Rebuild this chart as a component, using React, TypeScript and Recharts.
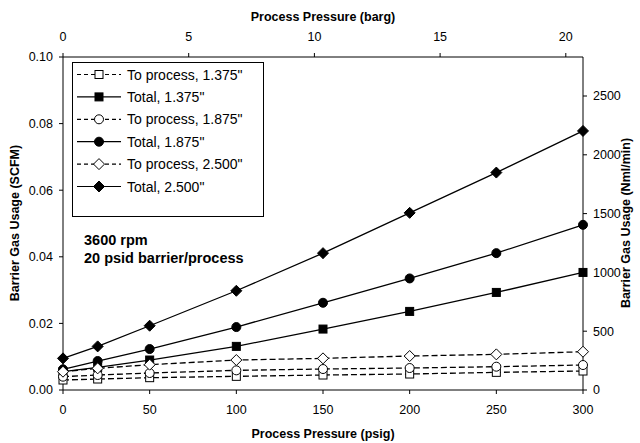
import React from 'react';
import { LineChart, Line, XAxis, YAxis, Legend, Label } from 'recharts';

const psig = [0, 20, 50, 100, 150, 200, 250, 300];
const procA = [0.003, 0.0033, 0.0037, 0.0041, 0.0045, 0.0048, 0.0053, 0.0057];
const totalA = [0.0055, 0.0068, 0.009, 0.0131, 0.0183, 0.0236, 0.0293, 0.0353];
const procB = [0.004, 0.0045, 0.0051, 0.0059, 0.0063, 0.0066, 0.007, 0.0075];
const totalB = [0.0062, 0.0087, 0.0123, 0.0189, 0.0262, 0.0335, 0.0411, 0.0496];
const procC = [0.0055, 0.0065, 0.0076, 0.009, 0.0095, 0.0102, 0.0107, 0.0115];
const totalC = [0.0095, 0.0131, 0.0193, 0.0298, 0.0411, 0.0532, 0.0653, 0.0778];

const psigTicks = [0, 50, 100, 150, 200, 250, 300];
const bargTicks = [0, 5, 10, 15, 20];
const scfmTicks = [0, 0.02, 0.04, 0.06, 0.08, 0.1];
const nmlTicks = [0, 500, 1000, 1500, 2000, 2500];

const PSI_PER_BAR = 14.5038;
const SCFM_TO_NML = 28317;

const series = [
  { key: 'procA', name: 'To process, 1.375"', shape: 'square', filled: false, dashed: true },
  { key: 'totalA', name: 'Total, 1.375"', shape: 'square', filled: true, dashed: false },
  { key: 'procB', name: 'To process, 1.875"', shape: 'circle', filled: false, dashed: true },
  { key: 'totalB', name: 'Total, 1.875"', shape: 'circle', filled: true, dashed: false },
  { key: 'procC', name: 'To process, 2.500"', shape: 'diamond', filled: false, dashed: true },
  { key: 'totalC', name: 'Total, 2.500"', shape: 'diamond', filled: true, dashed: false },
];

const data = psig.map((p, i) => ({
  psig: p,
  barg: p / PSI_PER_BAR,
  procA: procA[i],
  totalA: totalA[i],
  procB: procB[i],
  totalB: totalB[i],
  procC: procC[i],
  totalC: totalC[i],
  totalCNml: totalC[i] * SCFM_TO_NML,
}));

const FONT = '"Liberation Sans", Arial, sans-serif';
const tickStyle = { fill: '#000', fontSize: 12.5, fontFamily: FONT };

function Marker({ cx, cy, shape, filled }: { cx: number; cy: number; shape: string; filled: boolean }) {
  const fill = filled ? '#000' : '#fff';
  if (shape === 'square') {
    return <rect x={cx - 4} y={cy - 4} width={8} height={8} fill={fill} stroke="#000" strokeWidth={1} />;
  }
  if (shape === 'circle') {
    return <circle cx={cx} cy={cy} r={4.5} fill={fill} stroke="#000" strokeWidth={1} />;
  }
  const d = 5.5;
  return (
    <polygon
      points={`${cx},${cy - d} ${cx + d},${cy} ${cx},${cy + d} ${cx - d},${cy}`}
      fill={fill}
      stroke="#000"
      strokeWidth={1}
    />
  );
}

function LegendBox() {
  return (
    <svg width={192} height={155} style={{ display: 'block' }}>
      <rect x={0.5} y={0.5} width={191} height={154} fill="#fff" stroke="#000" strokeWidth={1} />
      {series.map((s, i) => {
        const y = 12.5 + i * 22.4;
        return (
          <g key={s.key}>
            <line x1={5} y1={y} x2={49} y2={y} stroke="#000" strokeWidth={1.2} strokeDasharray={s.dashed ? '4 3' : undefined} />
            <Marker cx={27} cy={y} shape={s.shape} filled={s.filled} />
            <text x={55} y={y + 5} fontSize={14} fontFamily={FONT} fill="#000">
              {s.name}
            </text>
          </g>
        );
      })}
    </svg>
  );
}

const titleStyle = { fontSize: 12.5, fontWeight: 'bold' as const, fontFamily: FONT, fill: '#000' };

export default function App() {
  return (
    <div style={{ position: 'absolute', left: 0, top: 0, width: 640, height: 443, background: '#fff' }}>
      <LineChart width={640} height={443} data={data} margin={{ top: 0, right: 0, bottom: 0, left: 0 }}>
        <XAxis
          xAxisId="bottom"
          dataKey="psig"
          type="number"
          domain={[0, 300]}
          ticks={psigTicks}
          height={53}
          stroke="#000"
          tick={tickStyle}
          tickSize={4}
          tickMargin={11}
          label={
            <Label
              content={() => (
                <text x={323} y={438} textAnchor="middle" {...titleStyle}>
                  Process Pressure (psig)
                </text>
              )}
            />
          }
        />
        <XAxis
          xAxisId="top"
          orientation="top"
          dataKey="barg"
          type="number"
          domain={[0, 300 / PSI_PER_BAR]}
          allowDataOverflow
          ticks={bargTicks}
          height={57}
          stroke="#000"
          tick={tickStyle}
          tickSize={4}
          tickMargin={12}
          label={
            <Label
              content={() => (
                <text x={323} y={21} textAnchor="middle" {...titleStyle}>
                  Process Pressure (barg)
                </text>
              )}
            />
          }
        />
        <YAxis
          yAxisId="left"
          type="number"
          domain={[0, 0.1]}
          ticks={scfmTicks}
          tickFormatter={(v: number) => v.toFixed(2)}
          width={63}
          stroke="#000"
          tick={tickStyle}
          tickSize={4}
          tickMargin={6}
          label={
            <Label
              content={() => (
                <text x={19} y={223} textAnchor="middle" transform="rotate(-90, 19, 223)" {...titleStyle}>
                  Barrier Gas Usage (SCFM)
                </text>
              )}
            />
          }
        />
        <YAxis
          yAxisId="right"
          orientation="right"
          type="number"
          domain={[0, 0.1 * SCFM_TO_NML]}
          allowDataOverflow
          ticks={nmlTicks}
          width={57}
          stroke="#000"
          tick={tickStyle}
          tickSize={4}
          tickMargin={6}
          label={
            <Label
              content={() => (
                <text x={630} y={223} textAnchor="middle" transform="rotate(-90, 630, 223)" {...titleStyle}>
                  Barrier Gas Usage (Nml/min)
                </text>
              )}
            />
          }
        />
        <Legend
          layout="vertical"
          align="center"
          verticalAlign="middle"
          wrapperStyle={{ left: 72, top: 62, width: 192, height: 155 }}
          content={() => <LegendBox />}
        />
        {/* invisible series so the barg and Nml/min axes get their scales */}
        <Line
          xAxisId="top"
          yAxisId="right"
          dataKey="totalCNml"
          stroke="none"
          dot={false}
          activeDot={false}
          legendType="none"
          isAnimationActive={false}
        />
        {series.map((s) => (
          <Line
            key={s.key}
            xAxisId="bottom"
            yAxisId="left"
            type="linear"
            dataKey={s.key}
            name={s.name}
            stroke="#000"
            strokeWidth={1.3}
            strokeDasharray={s.dashed ? '6 3' : undefined}
            isAnimationActive={false}
            dot={(p: any) => <Marker key={`${s.key}-${p.index}`} cx={p.cx} cy={p.cy} shape={s.shape} filled={s.filled} />}
            activeDot={false}
          />
        ))}
      </LineChart>
      <div
        style={{
          position: 'absolute',
          left: 84,
          top: 231,
          fontFamily: FONT,
          fontWeight: 'bold',
          fontSize: 14.5,
          lineHeight: '18px',
          color: '#000',
          whiteSpace: 'nowrap',
        }}
      >
        <div>3600 rpm</div>
        <div>20 psid barrier/process</div>
      </div>
    </div>
  );
}
